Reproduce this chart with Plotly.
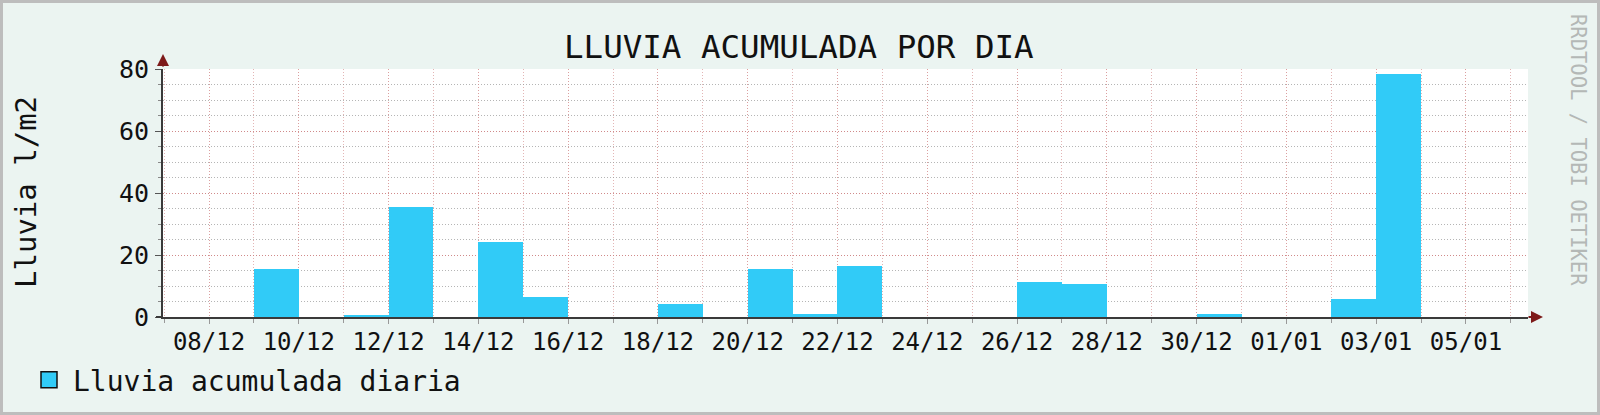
import pandas as pd
import plotly.graph_objects as go

# Lluvia diaria (l/m2), un valor por dia
dias = pd.date_range("2023-12-07", "2024-01-05", freq="D")
lluvia = [
    0, 0, 15.4, 0, 0.8, 35.4, 0, 24.2, 6.5, 0,   # 07/12 - 16/12
    0, 4.2, 0, 15.4, 1.0, 16.4, 0, 0, 0, 11.4,   # 17/12 - 26/12
    10.5, 0, 0, 1.0, 0, 0, 5.9, 78.4, 0, 0,      # 27/12 - 05/01
]
etiquetas_x = ["08/12", "10/12", "12/12", "14/12", "16/12", "18/12", "20/12", "22/12",
               "24/12", "26/12", "28/12", "30/12", "01/01", "03/01", "05/01"]
ticks_y = [0, 20, 40, 60, 80]

titulo = "LLUVIA ACUMULADA POR DIA"
eje_y = "Lluvia l/m2"
serie = "Lluvia acumulada diaria"
firma = "RRDTOOL / TOBI OETIKER"

# geometry of the canvas (pixels)
W, H = 1600, 415
ML, MR, MT, MB = 163, 72, 69, 98
PW, PH = W - ML - MR, H - MT - MB

FONT = "DejaVu Sans Mono"
CYAN = "#31CBF7"
BG = "#EBF4F1"
DAY_MS = 86400000
DOTS = "1px,2px"


def px_x(p):
    # pixel column -> paper x
    return (p - ML) / PW


def px_y(p):
    # pixel row -> paper y
    return (H - MB - p) / PH


fig = go.Figure()

# bars cover the whole day (00:00 -> 24:00), like rrdtool AREA with daily step
fig.add_trace(go.Bar(
    x=dias + pd.Timedelta(hours=12),
    y=lluvia,
    width=DAY_MS,
    marker=dict(color=CYAN, line=dict(width=0)),
    showlegend=False,
    name=serie,
))

# legend entry only (rrdtool style boxed swatch)
fig.add_trace(go.Scatter(
    x=[None], y=[None], mode="markers", name=serie,
    marker=dict(symbol="square", size=16, color=CYAN, line=dict(color="#111111", width=1.5)),
))

grid_pink = "rgba(220,120,120,0.7)"
grid_vert = "rgba(215,150,150,0.7)"
grid_gray = "rgba(150,150,150,0.7)"

tick_vals = [pd.to_datetime(t + ("/2023" if t.endswith("/12") else "/2024"), format="%d/%m/%Y")
             for t in etiquetas_x]

fig.update_layout(
    width=W, height=H, autosize=False,
    margin=dict(l=ML, r=MR, t=MT, b=MB, pad=0, autoexpand=False),
    paper_bgcolor=BG,
    plot_bgcolor="white",
    font=dict(family=FONT, color="#111111", size=24),
    bargap=0,
    showlegend=True,
    legend=dict(
        orientation="h",
        xref="container", yref="container",
        x=25 / W, y=(H - 380) / H, xanchor="left", yanchor="middle",
        bgcolor="rgba(0,0,0,0)",
        font=dict(family=FONT, size=28, color="#111111"),
        itemsizing="trace",
        itemwidth=38,
    ),
    xaxis=dict(
        type="date",
        range=["2023-12-06 23:24", "2024-01-06 09:10"],
        tickmode="array",
        tickvals=tick_vals,
        ticktext=etiquetas_x,
        ticks="outside", ticklen=5, tickcolor="#999999",
        ticklabelstandoff=-3,
        showgrid=True, gridcolor=grid_vert, griddash=DOTS, gridwidth=1,
        minor=dict(dtick=DAY_MS, tick0="2023-12-07", showgrid=True, gridcolor=grid_vert,
                   griddash=DOTS, ticks="outside", ticklen=4, tickcolor="#999999"),
        showline=True, linecolor="#3a3a3a", linewidth=2,
        tickfont=dict(size=24),
        zeroline=False,
        fixedrange=True,
        automargin=False,
    ),
    yaxis=dict(
        range=[0, 80],
        tickvals=ticks_y,
        ticks="outside", ticklen=6, tickcolor="#555555",
        ticklabelstandoff=1,
        showgrid=True, gridcolor=grid_pink, griddash=DOTS, gridwidth=1,
        minor=dict(dtick=5, showgrid=True, gridcolor=grid_gray, griddash=DOTS,
                   ticks="outside", ticklen=3, tickcolor="#888888"),
        showline=True, linecolor="#3a3a3a", linewidth=2,
        zeroline=False,
        tickfont=dict(size=25),
        fixedrange=True,
        automargin=False,
    ),
)

# title
fig.add_annotation(text=titulo, xref="paper", yref="paper",
                   x=px_x(799), y=px_y(47), showarrow=False,
                   font=dict(family=FONT, size=32.5, color="#111111"),
                   xanchor="center", yanchor="middle")

# vertical axis title
fig.add_annotation(text=eje_y, xref="paper", yref="paper",
                   x=px_x(26), y=px_y(192), showarrow=False, textangle=-90,
                   font=dict(family=FONT, size=29, color="#111111"),
                   xanchor="center", yanchor="middle")

# rrdtool watermark on the right
fig.add_annotation(text=firma, xref="paper", yref="paper",
                   x=px_x(1578), y=px_y(150), showarrow=False, textangle=90,
                   font=dict(family=FONT, size=20.5, color="#b4b8b6"),
                   xanchor="center", yanchor="middle")

# axis arrows
fig.add_annotation(x=0, y=px_y(54), xref="paper", yref="paper", ax=0, ay=14,
                   showarrow=True, arrowhead=2, arrowsize=1.2, arrowwidth=2,
                   arrowcolor="#7d1a1a", text="")
fig.add_annotation(x=px_x(1543), y=0, xref="paper", yref="paper", ax=-16, ay=0,
                   showarrow=True, arrowhead=2, arrowsize=1.2, arrowwidth=2,
                   arrowcolor="#7d1a1a", text="")

# extension of the x axis to the left of the y axis
fig.add_shape(type="line", xref="paper", yref="paper",
              x0=px_x(156), x1=0, y0=0, y1=0, line=dict(color="#3a3a3a", width=2))

# outer frame
fig.add_shape(type="rect", xref="paper", yref="paper",
              x0=px_x(1.5), x1=px_x(W - 1.5), y0=px_y(H - 1.5), y1=px_y(1.5),
              line=dict(color="#bdbdbd", width=3), layer="below")

# no page margin, so the figure sits at the window corner
fig.write_html("out.html", config={"displayModeBar": False},
               post_script="document.body.style.margin='0';")
